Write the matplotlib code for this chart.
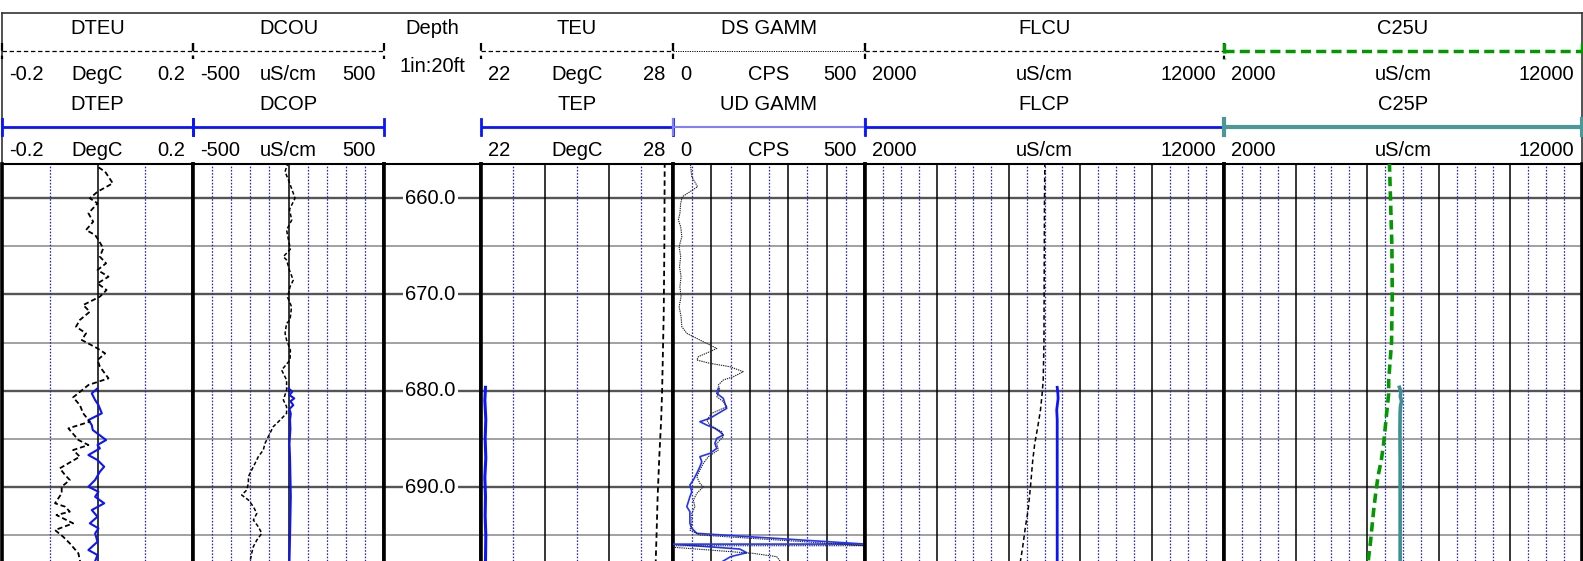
import numpy as np
import matplotlib
matplotlib.use('Agg')
import matplotlib.pyplot as plt
from matplotlib.transforms import blended_transform_factory as blend

plt.rcParams['font.family'] = ['Liberation Sans', 'DejaVu Sans']

# ---------------- data ----------------
top_names = ['DTEU', 'DCOU', 'TEU', 'DS GAMM', 'FLCU', 'C25U']
bot_names = ['DTEP', 'DCOP', 'TEP', 'UD GAMM', 'FLCP', 'C25P']
units = ['DegC', 'uS/cm', 'DegC', 'CPS', 'uS/cm', 'uS/cm']
left_labels = ['-0.2', '-500', '22', '0', '2000', '2000']
right_labels = ['0.2', '500', '28', '500', '12000', '12000']
scale_lo = [-0.2, -500, 22, 0, 2000, 2000]
scale_hi = [0.2, 500, 28, 500, 12000, 12000]
minor_step = [0.1, 100, 1, 50, 500, 500]
major_step = [0.2, 500, 2, 100, 2000, 2000]
depth_marks = [660, 670, 680, 690]

dteu_depth = [656.05, 656.75, 657.27, 658.47, 659.35, 660.03, 660.55, 661.59, 662.46, 663.32,
              663.84, 664.36, 665.22, 666.09, 666.78, 667.47, 668.17, 668.86, 669.55, 670.24,
              671.11, 671.80, 672.66, 673.36, 674.05, 674.74, 675.61, 676.13, 676.82, 677.51,
              678.72, 679.41, 680.69, 681.49, 682.35, 683.22, 683.91, 685.12, 685.64, 686.16,
              686.85, 688.06, 688.75, 689.27, 689.97, 690.66, 691.69, 692.04, 692.56, 692.91,
              693.77, 694.47, 695.16, 695.85, 696.89, 697.58, 698.2]
dteu = [0.000, 0.000, 0.016, 0.032, 0.000, -0.016, 0.000, -0.019, -0.009, -0.024,
        -0.005, 0.002, 0.012, 0.005, 0.018, 0.000, 0.023, 0.000, 0.019, 0.005,
        -0.030, -0.016, -0.037, -0.045, -0.024, -0.033, 0.000, 0.016, 0.000, 0.005,
        0.023, -0.019, -0.051, -0.037, -0.030, -0.016, -0.061, -0.040, -0.019, -0.051,
        -0.037, -0.079, -0.068, -0.058, -0.075, -0.075, -0.089, -0.068, -0.058, -0.086,
        -0.051, -0.089, -0.072, -0.058, -0.040, -0.037, -0.035]

dtep_depth = [679.76, 680.28, 680.97, 681.49, 682.35, 683.05, 683.57, 684.08, 685.12, 685.64,
              685.99, 686.68, 687.20, 687.89, 688.41, 689.27, 689.97, 690.49, 691.01, 691.69,
              692.39, 693.08, 693.77, 694.29, 694.81, 695.68, 696.54, 697.06, 697.7]
dtep = [0.000, -0.012, -0.005, 0.002, 0.009, -0.019, -0.012, -0.010, 0.018, 0.000,
        0.005, -0.019, 0.000, 0.014, 0.005, -0.005, -0.019, 0.002, -0.005, 0.014,
        -0.012, 0.000, -0.016, 0.002, -0.005, 0.000, -0.019, 0.000, -0.005]

dcou_depth = [656.3, 656.75, 657.27, 658.4, 659.5, 660.03, 661.2, 662.28, 663.32, 664.36,
              665.3, 666.09, 666.43, 667.5, 668.52, 669.21, 670.3, 671.28, 672.66, 673.01,
              674.05, 674.74, 675.8, 676.82, 677.86, 678.89, 679.93, 680.97, 681.66, 682.35,
              683.05, 683.74, 684.78, 685.47, 686.16, 686.85, 687.54, 688.24, 688.93, 689.62,
              690.32, 690.83, 691.35, 692.04, 692.74, 693.43, 694.12, 694.81, 695.51, 696.19,
              696.89, 697.7]
dcou = [0, -10, -18, 5, 25, 34, 5, 17, -10, 0,
        10, -27, -10, 5, 25, 8, -5, 16, 8, -10,
        -18, -10, 10, 8, -36, -10, -10, -27, -10, -10,
        -44, -80, -106, -123, -132, -158, -175, -193, -210, -210,
        -219, -245, -210, -184, -166, -184, -158, -140, -166, -184,
        -193, -201]

dcop_depth = [679.76, 680.1, 680.45, 680.8, 681.1, 681.5, 681.9, 682.4, 683.0, 684.0,
              685.5, 687.0, 689.0, 691.0, 693.0, 695.0, 697.7]
dcop = [0, 20, 5, 30, 10, 25, 5, 12, 8, 10, 5, 8, 10, 12, 10, 8, 5]

teu_depth = [656.3, 665.0, 672.0, 676.8, 680.0, 683.0, 687.0, 691.0, 694.5, 697.7]
teu = [27.74, 27.73, 27.71, 27.68, 27.66, 27.63, 27.57, 27.52, 27.49, 27.46]

tep_depth = [679.65, 681, 683, 685, 687, 689, 691, 693, 695, 697.7]
tep = [22.14, 22.12, 22.15, 22.13, 22.15, 22.12, 22.14, 22.13, 22.15, 22.14]

dsg_depth = [656.3, 656.75, 657.79, 658.83, 659.35, 659.87, 660.55, 661.59, 662.28, 662.98,
             664.02, 665.05, 666.09, 667.13, 668.17, 669.21, 670.24, 671.28, 672.32, 673.36,
             674.05, 674.92, 675.61, 675.95, 676.47, 676.82, 677.16, 677.51, 678.03, 678.55,
             678.89, 679.41, 679.93, 680.62, 681.14, 681.66, 682.35, 683.05, 683.57, 684.26,
             684.78, 685.47, 686.16, 686.85, 687.54, 688.24, 688.93, 689.62, 689.97, 690.66,
             691.35, 692.04, 692.74, 693.77, 694.47, 694.98, 696.09, 696.10, 696.26, 696.89,
             697.23, 697.7]
dsg = [46, 46, 49, 64, 44, 24, 20, 18, 14, 20,
       23, 16, 20, 17, 21, 18, 21, 16, 21, 23,
       36, 79, 114, 96, 66, 62, 96, 148, 183, 157,
       131, 118, 122, 114, 131, 140, 101, 88, 96, 127,
       131, 114, 118, 92, 79, 70, 62, 70, 79, 62,
       53, 57, 49, 49, 44, 70, 500, 0, 3, 209,
       270, 279]

udg_depth = [679.76, 680.28, 680.80, 681.31, 681.83, 682.35, 682.87, 683.22, 683.57, 683.91,
             684.26, 684.60, 684.95, 685.47, 685.99, 686.51, 686.85, 687.37, 687.89, 688.58,
             689.27, 689.79, 690.49, 691.01, 691.53, 692.04, 692.56, 693.08, 693.77, 694.29,
             694.81, 695.92, 695.93, 696.44, 696.82, 697.23, 697.7]
udg = [118, 114, 131, 135, 140, 118, 96, 70, 88, 109,
       122, 131, 114, 109, 114, 96, 70, 75, 70, 62,
       53, 44, 49, 44, 40, 36, 44, 44, 44, 49,
       62, 500, 0, 174, 192, 150, 130]

flcu_depth = [656.3, 660, 665, 670, 675, 678.9, 680.28, 682.0, 683.74, 685.47,
              687.20, 689.97, 692.39, 694.12, 696.19, 697.7]
flcu = [7010, 7000, 6995, 6990, 6985, 6964, 6935, 6888, 6813, 6729,
        6673, 6609, 6544, 6469, 6394, 6330]

flcp_depth = [679.65, 680.2, 680.8, 681.4, 682.0, 683, 686, 690, 694, 697.7]
flcp = [7354, 7370, 7380, 7360, 7340, 7354, 7354, 7354, 7354, 7354]

c25u_depth = [656.3, 660, 665, 670, 675, 678.9, 680.28, 682.0, 683.74, 685.47,
              687.20, 688.9, 690.66, 692.39, 694.12, 695.85, 697.23, 697.7]
c25u = [6620, 6650, 6690, 6700, 6680, 6600, 6600, 6553, 6506, 6460,
        6395, 6302, 6237, 6181, 6134, 6088, 6041, 6030]

c25p_depth = [679.65, 680.1, 680.6, 681.1, 681.6, 682.3, 684, 687, 690, 694, 697.7]
c25p = [6900, 6940, 6925, 6960, 6930, 6920, 6915, 6920, 6920, 6920, 6920]

top_curves = [(dteu, dteu_depth), (dcou, dcou_depth), (teu, teu_depth),
              (dsg, dsg_depth), (flcu, flcu_depth), (c25u, c25u_depth)]
bot_curves = [(dtep, dtep_depth), (dcop, dcop_depth), (tep, tep_depth),
              (udg, udg_depth), (flcp, flcp_depth), (c25p, c25p_depth)]

# ---------------- styles ----------------
BLUE = '#0a14ff'
top_hdr_style = [dict(color='black', lw=0.9, ls=(0, (3.5, 2.2)))] * 3 + [
    dict(color='black', lw=0.7, ls=(0, (1.2, 1.2))),
    dict(color='black', lw=0.9, ls=(0, (3.5, 2.2))),
    dict(color='#009a00', lw=2.5, ls=(0, (2.9, 1.5)))]
bot_hdr_style = [dict(color=BLUE, lw=2)] * 3 + [
    dict(color='#7f7fff', lw=1.5), dict(color=BLUE, lw=2), dict(color='#4a9898', lw=3)]
top_curve_style = [dict(color='black', lw=1.3, ls=(0, (2.8, 1.6))),
                   dict(color='black', lw=1.1, ls=(0, (2.5, 1.5))),
                   dict(color='black', lw=1.3, ls=(0, (3, 2))),
                   dict(color='#222222', lw=0.8, ls=(0, (1.2, 0.8))),
                   dict(color='black', lw=1.1, ls=(0, (3, 2))),
                   dict(color='#009a00', lw=2.6, ls=(0, (2.6, 1.4)))]
bot_curve_style = [dict(color=BLUE, lw=1.5), dict(color=BLUE, lw=1.5),
                   dict(color=BLUE, lw=2.2), dict(color='#2233ff', lw=1.2),
                   dict(color=BLUE, lw=2.0), dict(color='#3f9090', lw=2.6)]

W, H = 1583, 561
FS = 14.5
fig = plt.figure(figsize=(W / 100, H / 100), dpi=100)

edges = [2, 193, 384, 481, 673, 865, 1224, 1582]
hdr_top, hdr_bot = 13, 164
top_depth, bot_depth = 656.47, 697.68
track_of = [0, 1, 3, 4, 5, 6]


def new_axes(x0, x1, y0, y1):
    return fig.add_axes([x0 / W, 1 - y1 / H, (x1 - x0) / W, (y1 - y0) / H])


# header frame
frame = new_axes(edges[0], edges[-1], hdr_top, hdr_bot)
frame.set_xticks([])
frame.set_yticks([])
frame.patch.set_alpha(0)
frame.spines['bottom'].set_visible(False)
for s in ['top', 'left', 'right']:
    frame.spines[s].set_color('#333333')
    frame.spines[s].set_linewidth(1.2)

# data tracks
for t in range(7):
    ax = new_axes(edges[t], edges[t + 1], hdr_bot, H)
    ax.set_ylim(bot_depth, top_depth)
    ax.set_xticks([])
    ax.set_yticks([])
    ax.spines['bottom'].set_visible(False)
    for s in ['left', 'right']:
        ax.spines[s].set_linewidth(2.6)
    ax.spines['top'].set_linewidth(1.5)
    for d in np.arange(655, 700, 5):
        if d % 10 == 0:
            ax.axhline(d, color='#555555', lw=1.7, zorder=1)
        else:
            ax.axhline(d, color='#9a9a9a', lw=1.3, zorder=1)
    if t == 2:
        ax.set_xlim(0, 1)
        tr = blend(ax.transAxes, ax.transData)
        for d in depth_marks:
            ax.text(0.48, d, f'{d:.1f}', transform=tr, ha='center', va='center',
                    fontsize=FS, zorder=3,
                    bbox=dict(fc='white', ec='none', pad=1.5))
        continue
    i = track_of.index(t)
    lo, hi = scale_lo[i], scale_hi[i]
    ax.set_xlim(lo, hi)
    n = int(round((hi - lo) / minor_step[i]))
    every = int(round(major_step[i] / minor_step[i]))
    for k in range(1, n):
        v = lo + k * minor_step[i]
        if k % every == 0:
            ax.axvline(v, color='black', lw=1.1, zorder=1)
        else:
            ax.axvline(v, color='#2626c8', lw=0.9, ls=(0, (1.3, 1.3)), zorder=1)
    x, y = bot_curves[i]
    ax.plot(x, y, zorder=4, **bot_curve_style[i])
    x, y = top_curves[i]
    ax.plot(x, y, zorder=5, **top_curve_style[i])

# header contents
for t in range(7):
    ax = new_axes(edges[t], edges[t + 1], hdr_top, hdr_bot)
    ax.set_ylim(hdr_bot - hdr_top, 0)
    ax.axis('off')
    if t == 2:
        ax.text(0.5, 16, 'Depth', transform=blend(ax.transAxes, ax.transData),
                ha='center', va='center', fontsize=FS)
        ax.text(0.5, 54, '1in:20ft', transform=blend(ax.transAxes, ax.transData),
                ha='center', va='center', fontsize=FS)
        continue
    i = track_of.index(t)
    lo, hi = scale_lo[i], scale_hi[i]
    ax.set_xlim(lo, hi)
    tr = blend(ax.transAxes, ax.transData)
    wpx = edges[t + 1] - edges[t]
    for name, yl, ys, sty in [(top_names[i], 16, 38, top_hdr_style[i]),
                              (bot_names[i], 91, 114, bot_hdr_style[i])]:
        ax.text(0.5, yl, name, transform=tr, ha='center', va='center', fontsize=FS)
        ax.plot([lo, hi], [ys, ys], clip_on=False, solid_capstyle='butt', **sty)
        tick = dict(sty)
        tick['lw'] = max(sty['lw'], 1.6)
        for xe in (lo, hi):
            ax.plot([xe, xe], [ys - 8, ys + 8], clip_on=False, **tick)
        yv = ys + 24
        ax.text(7 / wpx, yv, left_labels[i], transform=tr, ha='left', va='center', fontsize=FS)
        ax.text(0.5, yv, units[i], transform=tr, ha='center', va='center', fontsize=FS)
        ax.text(1 - 8 / wpx, yv, right_labels[i], transform=tr, ha='right', va='center',
                fontsize=FS)

fig.savefig('out.png', dpi=100)
